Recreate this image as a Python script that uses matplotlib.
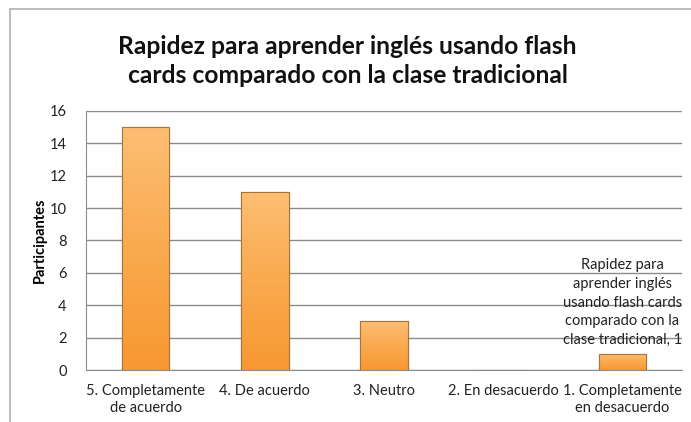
import matplotlib
matplotlib.use("Agg")
import matplotlib.pyplot as plt
import numpy as np
from matplotlib.colors import LinearSegmentedColormap
from matplotlib.patches import Rectangle

categories = ["5. Completamente\nde acuerdo", "4. De acuerdo", "3. Neutro",
              "2. En desacuerdo", "1. Completamente\nen desacuerdo"]
values = [15, 11, 3, 0, 1]
yticks = [0, 2, 4, 6, 8, 10, 12, 14, 16]
title = "Rapidez para aprender inglés usando flash\ncards comparado con la clase tradicional"
ylabel = "Participantes"
series_name = "Rapidez para\naprender inglés\nusando flash cards\ncomparado con la\nclase tradicional"

plt.rcParams['font.family'] = ['Lato', 'DejaVu Sans']

fig = plt.figure(figsize=(6.91, 4.22), dpi=100)
ax = fig.add_axes([0.1245, 0.1232, 0.8625, 0.6138])

x = np.arange(len(categories))
edge = "#A8743C"
bars = ax.bar(x, values, width=0.4, color="#FBA84C", edgecolor=edge,
              linewidth=0.8, zorder=3)

cmap = LinearSegmentedColormap.from_list("g", ["#F89832", "#FAAA4F", "#FDBE74"])
grad = np.linspace(0, 1, 256).reshape(-1, 1)
for b in bars:
    h = b.get_height()
    if h <= 0:
        continue
    x0 = b.get_x()
    w = b.get_width()
    im = ax.imshow(grad, cmap=cmap, aspect="auto", origin="lower",
                   extent=(x0, x0 + w, 0, h), zorder=3.5)
    im.set_clip_path(b)
    ax.add_patch(Rectangle((x0, 0), w, h, fill=False, edgecolor=edge,
                           linewidth=0.8, zorder=4))

ax.set_xlim(-0.5, len(categories) - 0.5)
ax.set_ylim(0, 16)
ax.set_yticks(yticks)
ax.set_xticks(x)
ax.set_xticklabels(categories, fontsize=10.5, color="#222222", linespacing=1.3)
ax.tick_params(axis="y", labelsize=10.5, colors="#222222", length=0, pad=14)
ax.tick_params(axis="x", length=0, pad=10)
ax.grid(axis="y", color="#8C8C8C", linewidth=1.0, zorder=0)
for s in ["top", "right"]:
    ax.spines[s].set_visible(False)
ax.spines["left"].set_color("#8C8C8C")
ax.spines["bottom"].set_color("#8C8C8C")

ax.set_ylabel(ylabel, fontsize=10.5, fontweight="bold", labelpad=2)

# data label on last bar
ax.annotate(f"{series_name}, {values[-1]}", xy=(x[-1], values[-1]),
            xytext=(0, 5), textcoords="offset points", ha="center", va="bottom",
            fontsize=10.5, color="#222222", linespacing=1.42, zorder=5)

fig.text(0.503, 0.855, title, ha="center", va="center", fontsize=17.7,
         fontweight="bold", linespacing=1.3, color="#111111")

# outer chart border (partially visible)
fig.add_artist(Rectangle((0.0145, -0.05), 1.2, 1.028, transform=fig.transFigure,
                         fill=False, edgecolor="#B0B0B0", linewidth=1.2))

fig.savefig("out.png", dpi=100)
